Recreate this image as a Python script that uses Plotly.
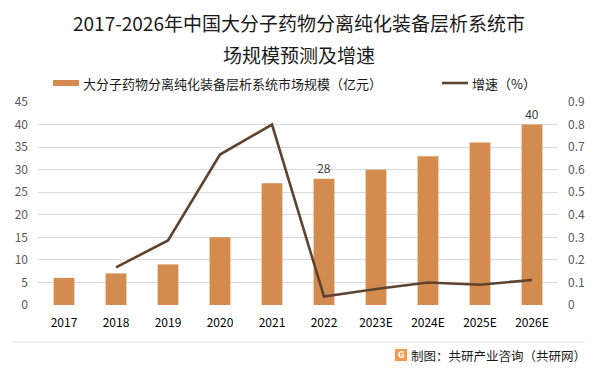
import plotly.graph_objects as go

categories = ["2017", "2018", "2019", "2020", "2021", "2022", "2023E", "2024E", "2025E", "2026E"]
market_size = [6, 7, 9, 15, 27, 28, 30, 33, 36, 40]
growth = [None, 0.167, 0.286, 0.667, 0.8, 0.037, 0.071, 0.10, 0.09, 0.111]
bar_labels = ["", "", "", "", "", "28", "", "", "", "40"]
left_ticks = [0, 5, 10, 15, 20, 25, 30, 35, 40, 45]
right_ticks = [0, 0.1, 0.2, 0.3, 0.4, 0.5, 0.6, 0.7, 0.8, 0.9]
right_ticktext = ["0", "0.1", "0.2", "0.3", "0.4", "0.5", "0.6", "0.7", "0.8", "0.9"]

FONT = "Noto Sans CJK SC"
BAR_COLOR = "#D48B4F"
LINE_COLOR = "#5E4430"

W, H = 598, 372
ML, MR, MT, MB = 38, 40, 102, 67

def paper_y(py):
    return (H - MB - py) / (H - MT - MB)

def paper_x(px):
    return (px - ML) / (W - ML - MR)

fig = go.Figure()
fig.add_trace(go.Bar(
    x=categories, y=market_size, name="大分子药物分离纯化装备层析系统市场规模（亿元）",
    marker=dict(color=BAR_COLOR, line=dict(width=0)), width=0.4,
    text=bar_labels, textposition="outside", cliponaxis=False,
    textfont=dict(family=FONT, size=12, color="#404040"),
))
fig.add_trace(go.Scatter(
    x=categories, y=growth, name="增速（%）", yaxis="y2", mode="lines",
    line=dict(color=LINE_COLOR, width=2.6), connectgaps=False,
))

fig.update_layout(
    width=W, height=H,
    margin=dict(l=ML, r=MR, t=MT, b=MB, autoexpand=False),
    paper_bgcolor="white", plot_bgcolor="white",
    showlegend=False,
    font=dict(family=FONT, size=12, color="#595959"),
    xaxis=dict(
        type="category", showgrid=False, showline=False, zeroline=False,
        ticks="", tickfont=dict(family=FONT, size=12, color="#000000"),
        ticklabelstandoff=9,
    ),
    yaxis=dict(
        range=[0, 45], tickvals=left_ticks, showgrid=True, gridcolor="#D9D9D9",
        gridwidth=1, zeroline=False, showline=False, ticks="",
        tickfont=dict(family=FONT, size=12, color="#595959"),
        ticklabelstandoff=9,
    ),
    yaxis2=dict(
        range=[0, 0.9], tickvals=right_ticks, ticktext=right_ticktext,
        overlaying="y", side="right", showgrid=False, zeroline=False, showline=False,
        tickfont=dict(family=FONT, size=12, color="#595959"),
        ticklabelstandoff=9,
    ),
)

# Title (two lines)
fig.add_annotation(text="2017-2026年中国大分子药物分离纯化装备层析系统市", x=paper_x(299), y=paper_y(23),
                   xref="paper", yref="paper", showarrow=False, xanchor="center", yanchor="middle",
                   font=dict(family=FONT, size=19, color="#1A1A1A"))
fig.add_annotation(text="场规模预测及增速", x=paper_x(299), y=paper_y(54),
                   xref="paper", yref="paper", showarrow=False, xanchor="center", yanchor="middle",
                   font=dict(family=FONT, size=19, color="#1A1A1A"))

# Legend (manual)
fig.add_shape(type="rect", xref="paper", yref="paper",
              x0=paper_x(53), x1=paper_x(79), y0=paper_y(86), y1=paper_y(80),
              fillcolor=BAR_COLOR, line=dict(width=0))
fig.add_annotation(text="大分子药物分离纯化装备层析系统市场规模（亿元）", x=paper_x(81), y=paper_y(83),
                   xref="paper", yref="paper", showarrow=False, xanchor="left", yanchor="middle",
                   font=dict(family=FONT, size=13, color="#1A1A1A"))
fig.add_shape(type="line", xref="paper", yref="paper",
              x0=paper_x(442), x1=paper_x(468), y0=paper_y(83), y1=paper_y(83),
              line=dict(color=LINE_COLOR, width=2.6))
fig.add_annotation(text="增速（%）", x=paper_x(470), y=paper_y(83),
                   xref="paper", yref="paper", showarrow=False, xanchor="left", yanchor="middle",
                   font=dict(family=FONT, size=13, color="#1A1A1A"))

# Bottom separator and source
fig.add_shape(type="line", xref="paper", yref="paper",
              x0=paper_x(12), x1=paper_x(585), y0=paper_y(342), y1=paper_y(342),
              line=dict(color="#E3E3E3", width=1))
fig.add_shape(type="rect", xref="paper", yref="paper",
              x0=paper_x(395), x1=paper_x(407), y0=paper_y(361), y1=paper_y(349),
              fillcolor="#F39A4A", line=dict(width=0))
fig.add_annotation(text="<b>G</b>", x=paper_x(401), y=paper_y(355),
                   xref="paper", yref="paper", showarrow=False, xanchor="center", yanchor="middle",
                   borderpad=0, font=dict(family="DejaVu Sans", size=8, color="white"))
fig.add_annotation(text="制图：共研产业咨询（共研网）", x=paper_x(587), y=paper_y(355),
                   xref="paper", yref="paper", showarrow=False, xanchor="right", yanchor="middle",
                   borderpad=0, font=dict(family=FONT, size=12.5, color="#1A1A1A"))

fig.write_html("out.html", config={"displayModeBar": False},
               post_script="document.body.style.margin='0';document.body.style.overflow='hidden';")
